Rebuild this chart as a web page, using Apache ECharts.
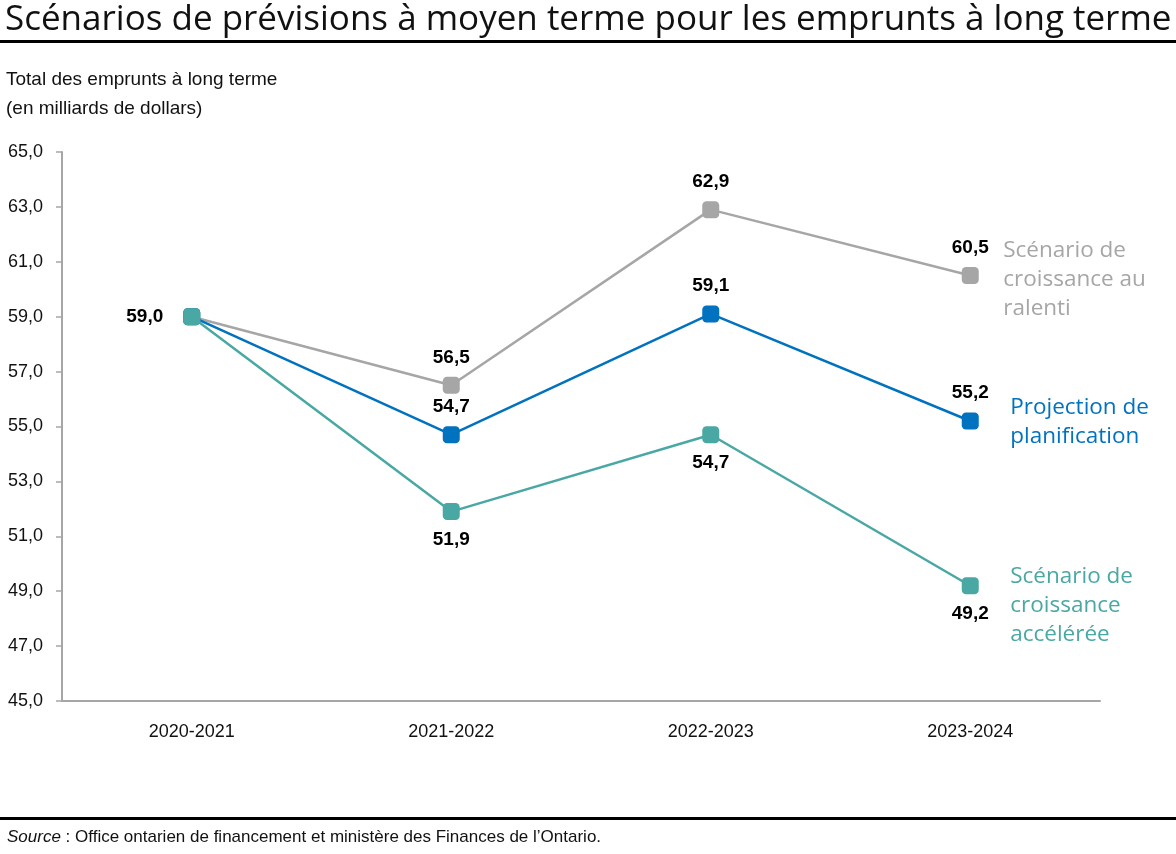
<!DOCTYPE html>
<html><head><meta charset="utf-8">
<script src="https://cdn.jsdelivr.net/npm/echarts@6/dist/echarts.min.js"></script>
<style>html,body{margin:0;padding:0;background:#fff;}#c{width:1176px;height:854px;}</style>
</head><body><div id="c"></div>
<script>
const categories = ['2020-2021','2021-2022','2022-2023','2023-2024'];
const slowGrowth = [59.0, 56.5, 62.9, 60.5];
const planning = [59.0, 54.7, 59.1, 55.2];
const fastGrowth = [59.0, 51.9, 54.7, 49.2];
const yTicks = {min:45, max:65, interval:2};
const names = ['Scénario de\ncroissance au\nralenti', 'Projection de\nplanification', 'Scénario de\ncroissance\naccélérée'];

const narrow = '"Liberation Sans Narrow", "Arial Narrow", "Liberation Sans", Arial, sans-serif';
const wide = '"Open Sans", Lato, sans-serif';
const chart = echarts.init(document.getElementById('c'));
const fmt = v => v.toFixed(1).replace('.', ',');

function series(name, data, color, labelPos, endOffset, firstLabel) {
  return {
    name: name, type: 'line', data: data.map((v, i) => {
      const d = {value: v};
      if (i === 0) {
        d.label = firstLabel ? {show: true, position: 'left', distance: 20} : {show: false};
      }
      return d;
    }),
    symbol: 'roundRect', symbolSize: 17,
    lineStyle: {color: color, width: 2.5},
    itemStyle: {color: color},
    label: {show: true, position: labelPos, distance: 10, color: '#000', fontFamily: narrow, fontWeight: 'bold', fontSize: 19,
      formatter: p => fmt(p.value)},
    endLabel: {show: true, formatter: name, color: color, fontFamily: wide, fontSize: 22.5, lineHeight: 29,
      align: 'left', distance: 0, offset: endOffset},
    emphasis: {disabled: true}
  };
}

chart.setOption({
  animation: false,
  title: [
    {text: 'Scénarios de prévisions à moyen terme pour les emprunts à long terme', left: 0, top: -2,
      textStyle: {fontFamily: wide, fontSize: 35, fontWeight: 500, color: '#111'}},
    {text: 'Total des emprunts à long terme\n(en milliards de dollars)', left: 1, top: 60,
      textStyle: {fontFamily: narrow, fontSize: 19, fontWeight: 'normal', color: '#111', lineHeight: 29}},
    {text: '{i|Source} : Office ontarien de financement et ministère des Finances de l’Ontario.', left: 2, top: 824,
      textStyle: {fontFamily: narrow, fontSize: 17, fontWeight: 'normal', color: '#111',
        rich: {i: {fontFamily: narrow, fontSize: 17, fontStyle: 'italic', color: '#111'}}}}
  ],
  graphic: [
    {type: 'rect', left: 0, top: 40, shape: {width: 1176, height: 3}, style: {fill: '#000'}},
    {type: 'rect', left: 0, top: 817, shape: {width: 1176, height: 3}, style: {fill: '#000'}}
  ],
  grid: {left: 62, right: 76, top: 152, bottom: 153},
  xAxis: {type: 'category', data: categories, boundaryGap: true,
    axisLine: {lineStyle: {color: '#a6a6a6', width: 2}},
    axisTick: {alignWithLabel: true, length: 6, lineStyle: {color: '#a6a6a6', width: 1.5}},
    axisLabel: {color: '#111', fontFamily: narrow, fontSize: 18, margin: 22}},
  yAxis: {type: 'value', min: yTicks.min, max: yTicks.max, interval: yTicks.interval,
    axisLine: {show: true, lineStyle: {color: '#a6a6a6', width: 2}},
    axisTick: {show: true, length: 6, lineStyle: {color: '#a6a6a6', width: 1.5}},
    splitLine: {show: false},
    axisLabel: {color: '#111', fontFamily: narrow, fontSize: 18, margin: 19, formatter: v => fmt(v)}},
  series: [
    series(names[0], slowGrowth, '#a6a6a6', 'top', [33, 4], false),
    series(names[1], planning, '#0072bf', 'top', [40, 1], false),
    series(names[2], fastGrowth, '#4aa8a4', 'bottom', [40, 20], true)
  ]
});
</script></body></html>
